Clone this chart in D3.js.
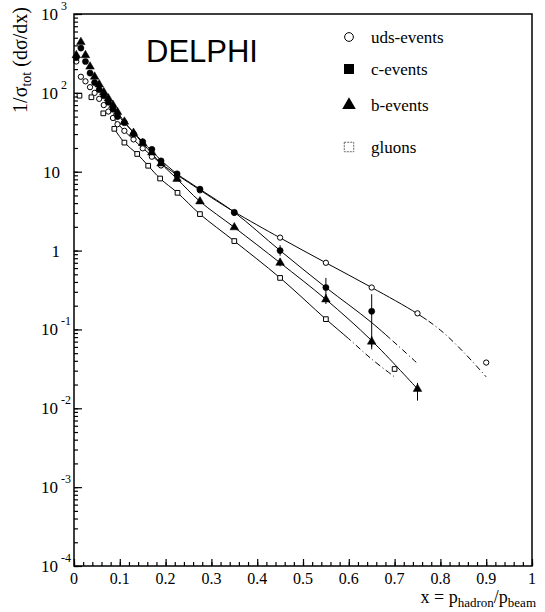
<!DOCTYPE html>
<html lang="en">
<head>
  <meta charset="UTF-8">
  <title>DELPHI fragmentation</title>
  <script src="https://d3js.org/d3.v7.min.js"></script>
  <style>
    * { margin: 0; padding: 0; }
    body { background: #fff; width: 545px; height: 612px; overflow: hidden; }
    text { font-family: "Liberation Serif", "DejaVu Serif", serif; fill: #000; }
  </style>
</head>
<body>
  <div id="chart"></div>

  <script>
    // x bins for quark samples
    const xq = [0.005, 0.015, 0.025, 0.035, 0.045, 0.055, 0.065, 0.075, 0.085, 0.095,
                0.11, 0.13, 0.15, 0.17, 0.19, 0.225, 0.275, 0.35, 0.45, 0.55, 0.65, 0.75, 0.9];
    const uds = [250, 160, 140, 118, 100, 84, 70, 58, 48, 40,
                 33, 25.7, 19.8, 15.5, 12.0, 8.8, 5.8, 3.0, 1.46, 0.70, 0.34, 0.16, 0.038];
    const cev = [280, 370, 250, 178, 135, 110, 92, 76, 62, 50,
                 41.9, 30, 24, 19.2, 13.7, 9.4, 6.0, 3.06, 1.0, 0.34, 0.17, null, null];
    const bev = [300, 440, 300, 215, 160, 128, 102, 85, 70, 57,
                 43, 31, 23, 17.5, 12.7, 8.1, 4.2, 1.97, 0.70, 0.24, 0.070, 0.0176, null];

    // gluon sample
    const xg = [0.012, 0.038, 0.064, 0.088, 0.11, 0.138, 0.162, 0.188, 0.226, 0.275, 0.35, 0.45, 0.55, 0.70];
    const glu = [92, 88, 55, 35, 23.4, 16.8, 11.9, 8.2, 5.4, 2.9, 1.32, 0.45, 0.135, 0.0315];

    // error bars
    const cErrX = [0.45, 0.55, 0.65];
    const cErrLo = [0.86, 0.27, 0.056];
    const cErrHi = [1.17, 0.45, 0.28];
    const bErrX = [0.45, 0.55, 0.65, 0.75];
    const bErrLo = [0.63, 0.21, 0.060, 0.0125];
    const bErrHi = [0.78, 0.28, 0.082, 0.021];

    // fitted curves (solid up to the dash value, dash-dot after)
    const udsFitX = [0.085, 0.11, 0.15, 0.2, 0.25, 0.3, 0.35, 0.45, 0.55, 0.65, 0.75, 0.8, 0.85, 0.9];
    const udsFitY = [48, 33, 20, 11.5, 7.3, 4.7, 3.1, 1.45, 0.70, 0.34, 0.158, 0.098, 0.052, 0.025];
    const udsDash = 0.77;
    const cFitX = [0.085, 0.11, 0.15, 0.19, 0.225, 0.275, 0.35, 0.45, 0.55, 0.65, 0.75];
    const cFitY = [62, 42, 24, 14, 9.4, 6.0, 3.06, 1.0, 0.34, 0.122, 0.037];
    const cDash = 0.69;
    const bFitX = [0.085, 0.11, 0.15, 0.19, 0.225, 0.275, 0.35, 0.45, 0.55, 0.65, 0.75];
    const bFitY = [70, 43, 23, 12.7, 8.1, 4.2, 1.97, 0.70, 0.24, 0.072, 0.0176];
    const bDash = 1;
    const gFitX = [0.088, 0.11, 0.138, 0.162, 0.188, 0.226, 0.275, 0.35, 0.45, 0.55, 0.6, 0.65, 0.70];
    const gFitY = [35, 23.4, 16.8, 11.9, 8.2, 5.4, 2.9, 1.32, 0.45, 0.135, 0.076, 0.042, 0.025];
    const gDash = 0.6;

    const xTicks = [0, 0.1, 0.2, 0.3, 0.4, 0.5, 0.6, 0.7, 0.8, 0.9, 1];
    const yDecades = [3, 2, 1, 0, -1, -2, -3, -4];
    const legendLabels = ['uds-events', 'c-events', 'b-events', 'gluons'];

    const width = 545, height = 612;
    const mLeft = 74, mRight = 532, mTop = 14, mBottom = 566;

    const svg = d3.select('#chart').append('svg')
      .attr('width', width).attr('height', height);

    const x = d3.scaleLinear().domain([0, 1]).range([mLeft, mRight]);
    const y = d3.scaleLog().domain([1e-4, 1e3]).range([mBottom, mTop]);

    // clip regions for solid / dashed parts
    const defs = svg.append('defs');
    function clip(id, x0, x1) {
      defs.append('clipPath').attr('id', id).append('rect')
        .attr('x', x0).attr('y', 0).attr('width', x1 - x0).attr('height', height);
    }

    const line = d3.line().x(d => x(d[0])).y(d => y(d[1])).curve(d3.curveCatmullRom.alpha(0.5));

    function drawFit(name, xs, vs, dashFrom) {
      const pts = xs.map((xv, i) => [xv, vs[i]]);
      clip(name + '-s', 0, x(dashFrom));
      clip(name + '-d', x(dashFrom), width);
      svg.append('path').attr('d', line(pts)).attr('fill', 'none')
        .attr('stroke', '#000').attr('stroke-width', 1)
        .attr('clip-path', `url(#${name}-s)`);
      svg.append('path').attr('d', line(pts)).attr('fill', 'none')
        .attr('stroke', '#000').attr('stroke-width', 1)
        .attr('stroke-dasharray', '6,3,1,3')
        .attr('clip-path', `url(#${name}-d)`);
    }

    drawFit('uds', udsFitX, udsFitY, udsDash);
    drawFit('c', cFitX, cFitY, cDash);
    drawFit('b', bFitX, bFitY, bDash);
    drawFit('g', gFitX, gFitY, gDash);

    // error bars
    function errBars(xs, lo, hi) {
      svg.append('g').selectAll('line').data(xs).join('line')
        .attr('x1', d => x(d)).attr('x2', d => x(d))
        .attr('y1', (d, i) => y(lo[i])).attr('y2', (d, i) => y(hi[i]))
        .attr('stroke', '#000').attr('stroke-width', 1);
    }
    errBars(cErrX, cErrLo, cErrHi);
    errBars(bErrX, bErrLo, bErrHi);

    // markers
    const sym = {
      uds: d3.symbol().type(d3.symbolCircle).size(22),
      c: d3.symbol().type(d3.symbolCircle).size(30),
      b: d3.symbol().type(d3.symbolTriangle).size(32),
      g: d3.symbol().type(d3.symbolSquare).size(22)
    };
    function markers(xs, vs, s, filled) {
      const pts = xs.map((xv, i) => [xv, vs[i]]).filter(d => d[1] != null);
      svg.append('g').selectAll('path').data(pts).join('path')
        .attr('d', s)
        .attr('transform', d => `translate(${x(d[0])},${y(d[1])})`)
        .attr('fill', filled ? '#000' : '#fff')
        .attr('stroke', '#000').attr('stroke-width', filled ? 0.5 : 1);
    }
    markers(xg, glu, sym.g, false);
    markers(xq, uds, sym.uds, false);
    markers(xq, cev, sym.c, true);
    markers(xq, bev, sym.b, true);

    // frame
    svg.append('rect').attr('x', mLeft).attr('y', mTop)
      .attr('width', mRight - mLeft).attr('height', mBottom - mTop)
      .attr('fill', 'none').attr('stroke', '#000').attr('stroke-width', 1.5);

    // y axis ticks (inside)
    const yAxisMinor = d3.axisRight(y).tickValues(y.ticks()).tickSize(4).tickFormat('');
    const yAxisMajor = d3.axisRight(y).tickValues(yDecades.map(e => Math.pow(10, e))).tickSize(8).tickFormat('');
    [yAxisMinor, yAxisMajor].forEach(ax => {
      const g = svg.append('g').attr('transform', `translate(${mLeft},0)`).call(ax);
      g.select('.domain').remove();
      g.selectAll('line').attr('stroke', '#000').attr('stroke-width', 1.2);
    });

    // x axis ticks (inside)
    const xMinor = d3.range(0, 1.001, 0.02);
    const xAxisMinor = d3.axisTop(x).tickValues(xMinor).tickSize(4).tickFormat('');
    const xAxisMajor = d3.axisTop(x).tickValues(xTicks).tickSize(7).tickFormat('');
    [xAxisMinor, xAxisMajor].forEach(ax => {
      const g = svg.append('g').attr('transform', `translate(0,${mBottom})`).call(ax);
      g.select('.domain').remove();
      g.selectAll('line').attr('stroke', '#000').attr('stroke-width', 1.2);
    });

    // x tick labels
    svg.append('g').selectAll('text').data(xTicks).join('text')
      .attr('x', d => x(d)).attr('y', 584)
      .attr('text-anchor', 'middle').attr('font-size', 16)
      .text(d => d);

    // y tick labels
    const yl = svg.append('g');
    yDecades.forEach(e => {
      const yy = y(Math.pow(10, e));
      if (e === 0 || e === 1) {
        yl.append('text').attr('x', 60).attr('y', yy + 6)
          .attr('text-anchor', 'end').attr('font-size', 17)
          .text(e === 0 ? '1' : '10');
      } else {
        yl.append('text').attr('x', 58).attr('y', yy + 6)
          .attr('text-anchor', 'end').attr('font-size', 17).text('10');
        yl.append('text').attr('x', 61).attr('y', yy - 4)
          .attr('font-size', 12).text(e);
      }
    });

    // y axis title
    const yt = svg.append('text')
      .attr('transform', 'rotate(-90)')
      .attr('x', -60).attr('y', 27)
      .attr('text-anchor', 'middle').attr('font-size', 20);
    yt.append('tspan').text('1/σ');
    yt.append('tspan').attr('dy', 4).attr('font-size', 14).text('tot');
    yt.append('tspan').attr('dy', -4).text(' (dσ/dx)');

    // x axis title
    const xt = svg.append('text')
      .attr('x', 536).attr('y', 603)
      .attr('text-anchor', 'end').attr('font-size', 18);
    xt.append('tspan').text('x = p');
    xt.append('tspan').attr('dy', 4).attr('font-size', 13).text('hadron');
    xt.append('tspan').attr('dy', -4).text('/p');
    xt.append('tspan').attr('dy', 4).attr('font-size', 13).text('beam');

    // DELPHI label
    svg.append('text').attr('x', 146).attr('y', 62)
      .style('font-family', '"Liberation Sans", Arial, sans-serif')
      .attr('font-size', 31).text('DELPHI');

    // legend
    const legY = [37, 69, 105, 147];
    const legSym = [
      d3.symbol().type(d3.symbolCircle).size(60),
      d3.symbol().type(d3.symbolSquare).size(100),
      d3.symbol().type(d3.symbolTriangle).size(80),
      d3.symbol().type(d3.symbolSquare).size(90)
    ];
    legendLabels.forEach((lab, i) => {
      const p = svg.append('path').attr('d', legSym[i])
        .attr('transform', `translate(349,${legY[i]})`);
      if (i === 0) p.attr('fill', 'none').attr('stroke', '#000').attr('stroke-width', 1);
      else if (i === 3) p.attr('fill', 'none').attr('stroke', '#666').attr('stroke-width', 1)
        .attr('stroke-dasharray', '2,1');
      else p.attr('fill', '#000');
      svg.append('text').attr('x', 371).attr('y', legY[i] + 6)
        .attr('font-size', 17).text(lab);
    });
  </script>
</body>
</html>
